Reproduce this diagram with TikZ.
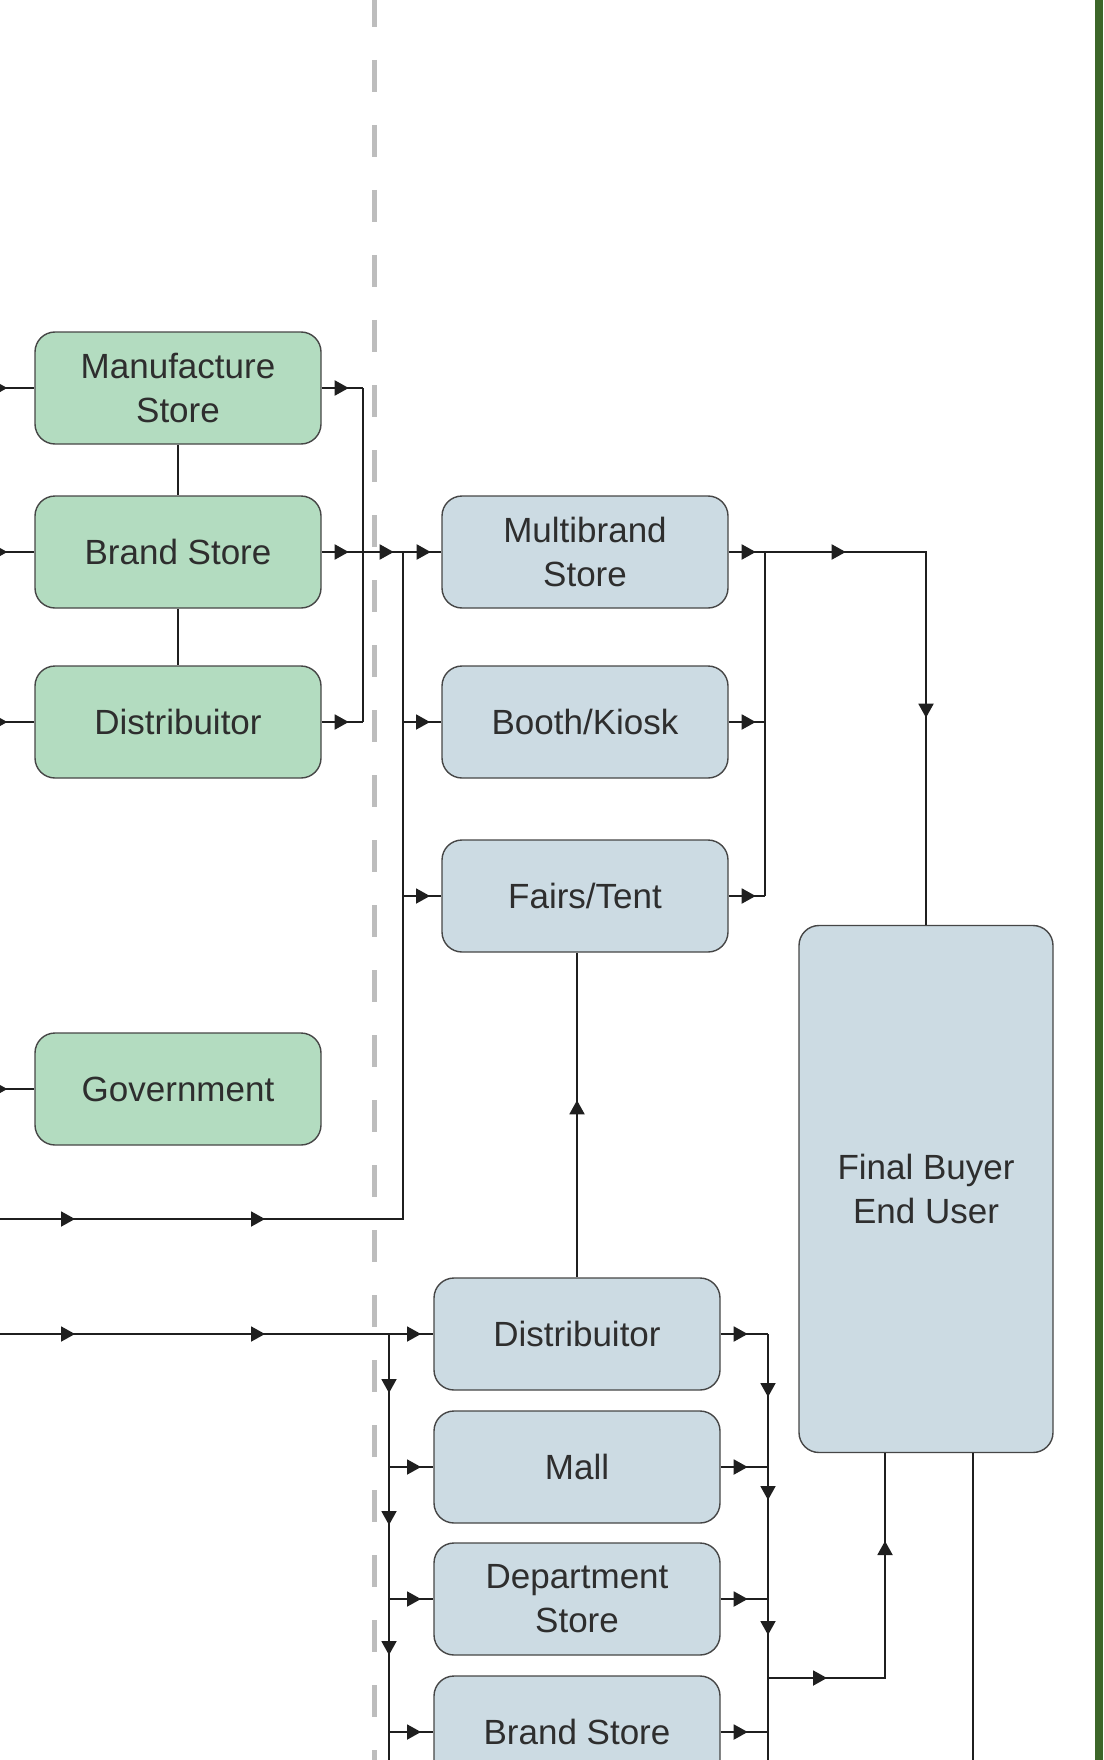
\documentclass[tikz,border=0pt]{standalone}
\usepackage{fontspec}
\setmainfont{Liberation Sans}
\usetikzlibrary{arrows.meta,decorations.markings}

\definecolor{greenfill}{HTML}{B3DCC0}
\definecolor{bluefill}{HTML}{CCDBE3}
\definecolor{boxline}{HTML}{464646}
\definecolor{txt}{HTML}{2E2E2E}
\definecolor{dashgray}{HTML}{BDBDBD}
\definecolor{barcolor}{HTML}{3C6629}

\begin{document}
\begin{tikzpicture}[
    x=1pt, y=-1pt,
    >={Triangle[length=14pt,width=15pt]},
    line width=1.9pt,
    color=black!88,
    box/.style={draw=boxline, line width=1.4pt, rounded corners=20pt,
                minimum width=286pt, minimum height=112pt, inner sep=0pt,
                align=center, text=txt, font=\fontsize{35}{44}\selectfont},
    greenbox/.style={box, fill=greenfill},
    bluebox/.style={box, fill=bluefill},
    arr/.style={postaction={decorate,
                decoration={markings, mark=at position #1 with {\arrow{>}}}}},
    divider/.style={draw=dashgray, line width=5pt, dash pattern=on 32pt off 33pt}
    ]

    \useasboundingbox (0,0) rectangle (1103,1760);

    % divider and side bar
    \draw[divider] (374,-5) -- (374,1770);
    \fill[barcolor] (1095,0) rectangle (1103,1760);

    % nodes
    \node[greenbox] (mfr)   at (178,388)  {Manufacture\\Store};
    \node[greenbox] (brand) at (178,552)  {Brand Store};
    \node[greenbox] (distg) at (178,722)  {Distribuitor};
    \node[greenbox] (gov)   at (178,1089) {Government};

    \node[bluebox] (multi) at (585,552) {Multibrand\\Store};
    \node[bluebox] (booth) at (585,722) {Booth/Kiosk};
    \node[bluebox] (fairs) at (585,896) {Fairs/Tent};

    \node[bluebox] (dist)   at (577,1334) {Distribuitor};
    \node[bluebox] (mall)   at (577,1467) {Mall};
    \node[bluebox] (dept)   at (577,1599) {Department\\Store};
    \node[bluebox] (bstore) at (577,1732) {Brand Store};

    \node[bluebox, minimum width=254pt, minimum height=527pt] (final) at (926,1189) {Final Buyer\\End User};

    % bus lines
    \coordinate (gbus)  at (363,0);
    \coordinate (trunk) at (403,0);
    \coordinate (ubus)  at (765,0);
    \coordinate (lbus)  at (389,0);
    \coordinate (rbus)  at (768,0);
    \coordinate (in1)   at (-30,1219);
    \coordinate (in2)   at (-30,1334);
    \coordinate (jn)    at (768,1678);

    % edges, left column
    \foreach \n in {mfr,brand,distg,gov}
        \draw[arr=43pt] ([xshift=-70pt]\n.west) -- (\n.west);
    \draw (mfr) -- (brand);
    \draw (brand) -- (distg);
    \foreach \n in {mfr,distg}
        \draw[arr=27pt] (\n.east) -- (\n.east -| gbus);
    \draw (mfr.east -| gbus) -- (distg.east -| gbus);
    \draw[arr=27pt, arr=72pt, arr=109pt] (brand) -- (multi);

    % edges, upper middle
    \draw[arr=105pt, arr=295pt] (in1) -| (trunk |- multi);
    \foreach \n in {booth,fairs}
        \draw[arr=27pt] (\n.west -| trunk) -- (\n.west);
    \draw[arr=27pt, arr=117pt, arr=363pt] (multi.east) -| (final.north);
    \foreach \n in {booth,fairs}
        \draw[arr=27pt] (\n.east) -- (\n.east -| ubus);
    \draw (multi.east -| ubus) -- (fairs.east -| ubus);
    \draw[arr=177pt] (dist.north) -- (dist.north |- fairs.south);

    % edges, lower middle
    \draw[arr=105pt, arr=295pt, arr=451pt] (in2) -- (dist.west);
    \draw[arr=59pt, arr=191pt, arr=321pt] (dist.west -| lbus) -- (bstore.south -| lbus);
    \foreach \n in {mall,dept,bstore}
        \draw[arr=32pt] (\n.west -| lbus) -- (\n.west);
    \foreach \n in {dist,mall,dept,bstore}
        \draw[arr=27pt] (\n.east) -- (\n.east -| rbus);
    \draw[arr=63pt, arr=166pt, arr=301pt] (dist.east -| rbus) -- (bstore.south -| rbus);

    % edges, final buyer
    \draw[arr=59pt, arr=254pt] (jn) -| ([xshift=-41pt]final.south);
    \draw ([xshift=47pt]final.south) -- ++(0,330);

\end{tikzpicture}
\end{document}
